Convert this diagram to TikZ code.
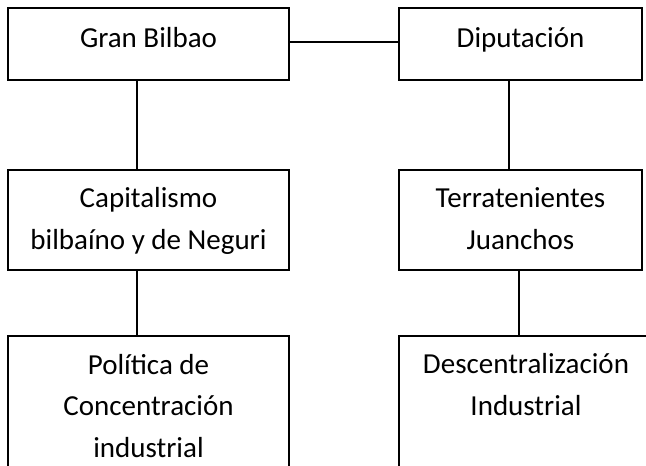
\documentclass[tikz,border=0pt]{standalone}
\usepackage{fontspec}
\setmainfont{Carlito}
\usetikzlibrary{positioning}

\begin{document}
\begin{tikzpicture}[x=1pt, y=1pt, node distance=90pt]
      \tikzstyle{orgbox} = [rectangle, draw=black, line width=1.2pt, outer sep=0pt, inner xsep=4pt, inner ysep=0pt, align=center, font=\fontsize{29}{41.5}\selectfont]
      \tikzstyle{wide} = [orgbox, minimum width=281pt]
      \tikzstyle{narrow} = [orgbox, minimum width=243pt]
      \tikzstyle{link} = [line width=1.2pt]

      \useasboundingbox (0,0) rectangle (646,-466);

      \node (gran) [wide, text height=39pt, text depth=33pt, anchor=north west] at (8,-8) {Gran Bilbao};
      \node (dipu) [narrow, text height=39pt, text depth=33pt, right=110pt of gran] {Diputación};

      \draw [link] ([yshift=2pt]gran.east) -- ([yshift=2pt]dipu.west);

      \node (capital) [wide, text height=79pt, text depth=21pt, below= of gran] {Capitalismo\\bilbaíno y de Neguri};
      \node (terra) [narrow, text height=79pt, text depth=21pt, below= of dipu] {Terratenientes\\Juanchos};

      \draw [link] ([xshift=-11.5pt]gran.south) -- ([xshift=-11.5pt]capital.north);
      \draw [link] ([xshift=-11.5pt]dipu.south) -- ([xshift=-11.5pt]terra.north);

      \node (politica) [wide, text height=121pt, text depth=29pt, below=66pt of capital] {Política de\\Concentración\\industrial};
      \node (descen) [orgbox, minimum width=254pt, text height=79pt, text depth=71pt, below=66pt of terra, xshift=5.5pt] {Descentralización\\Industrial};

      \draw [link] ([xshift=-11.5pt]capital.south) -- ([xshift=-11.5pt]politica.north);
      \draw [link] ([xshift=-1.5pt]terra.south) -- ([xshift=-1.5pt]terra.south |- descen.north);

    \end{tikzpicture}
\end{document}
